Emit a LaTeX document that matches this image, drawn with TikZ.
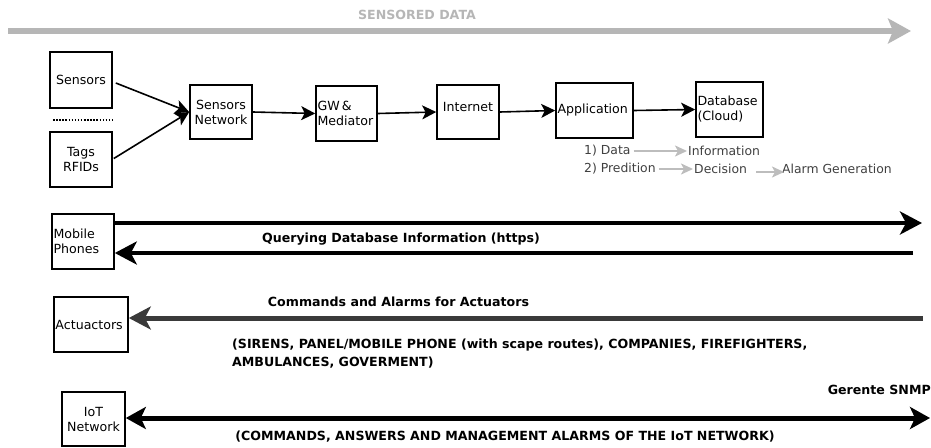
\documentclass[tikz,border=0pt]{standalone}
\usepackage{fontspec}
\setmainfont{DejaVu Sans}
\usetikzlibrary{arrows.meta,calc}
\definecolor{lgray}{HTML}{B6B6B6}
\definecolor{agray}{HTML}{BDBDBD}
\definecolor{dgray}{HTML}{3A3A3A}
\begin{document}
\begin{tikzpicture}[x=1pt,y=-1pt,
  box/.style={draw,line width=1.6pt,inner sep=1.5pt,font=\fontsize{12.6}{15}\selectfont},
  lbox/.style={box,align=left},
  cbox/.style={box,align=center},
  arr/.style={line width=1.6pt,-{Stealth[length=14pt,width=14pt,inset=3.5pt]}},
  bigarr/.style={line width=4.5pt,-{Stealth[length=22pt,width=23pt,inset=6pt]}},
  garr/.style={agray,line width=2pt,-{Stealth[length=12pt,width=11pt,inset=3pt]}},
  small/.style={font=\fontsize{12.4}{14}\selectfont,text=black!75,inner sep=1pt},
  blbl/.style={font=\bfseries\fontsize{12.6}{15}\selectfont,inner sep=0pt},
]
\useasboundingbox (0,0) rectangle (931,447);
% top sensored data arrow
\node[blbl,text=lgray] (sd) at (417,15) {SENSORED DATA};
\coordinate (sdA) at (8,31);
\coordinate (sdB) at (911,31);
\draw[lgray,line width=6pt,-{Stealth[length=23pt,width=25pt,inset=5pt]}] (sdA) -- (sdB);
% chain
\node[cbox,minimum width=62pt,minimum height=56pt] (sensors) at (81,80) {Sensors};
\node[cbox,minimum width=62pt,minimum height=55pt] (tags) at (81,159.5) {Tags\\RFIDs};
\coordinate (dotA) at (53,119.5);
\coordinate (dotB) at (113,119.5);
\draw[line width=2pt,dash pattern=on 1.5pt off 1.6pt] (dotA) -- (dotB);
\node[cbox,minimum width=62pt,minimum height=54pt] (sn) at (221,112) {Sensors\\Network};
\node[lbox,text width=58pt,minimum height=55pt] (gw) at (346.5,113.5) {GW\,\&\\Mediator};
\node[cbox,minimum width=62pt,minimum height=54pt] (inet) at (468,112) {Internet\\[-5pt]\phantom{I}};
\node[lbox,text width=74pt,minimum height=55pt] (app) at (594.5,110.5) {Application};
\node[lbox,text width=64pt,minimum height=55pt] (db) at (729.5,109.5) {Database\\(Cloud)};
\draw[arr] ($(sensors.east)+(3,3)$) -- (sn.west);
\draw[arr] ($(tags.east)+(1,-1)$) -- (sn.west);
\draw[arr] (sn.east) -- (gw.west);
\draw[arr] (gw.east) -- (inet.west);
\draw[arr] (inet.east) -- (app.west);
\draw[arr] (app.east) -- (db.west);
% application notes
\node[small,anchor=west] (data) at (583,151) {1) Data};
\node[small,anchor=west] (info) at (687,151) {Information};
\node[small,anchor=west] (pred) at (583,169) {2) Predition};
\node[small,anchor=west] (dec) at (693,169) {Decision};
\node[small,anchor=west] (alarm) at (781,169) {Alarm Generation};
\draw[garr] ($(data.east)+(2,0)$) -- (info.west);
\draw[garr] ($(pred.east)+(2,0)$) -- (dec.west);
\draw[garr] ($(dec.east)+(8,3)$) -- ($(alarm.west)+(3,3)$);
% mobile phones
\node[lbox,text width=59pt,minimum height=55pt] (mob) at (83,241.5) {Mobile\\Phones};
\coordinate (mobR1) at (922,223);
\coordinate (mobR2) at (913,253);
\draw[bigarr] (mob.east |- 0,223) -- (mobR1);
\draw[bigarr] (mobR2) -- (mob.east |- 0,253);
\node[blbl] (qlbl) at (401,239) {Querying Database Information (https)};
% actuators
\node[box,minimum width=74pt,minimum height=55pt] (act) at (91,324.5) {Actuactors\\[-4pt]\phantom{I}};
\coordinate (actR) at (923,318);
\draw[bigarr,dgray,line width=5pt] (actR) -- (act.east |- 0,318);
\node[blbl] (clbl) at (398.5,302) {Commands and Alarms for Actuators};
\node[blbl,anchor=west,align=left,font=\bfseries\fontsize{12.6}{18}\selectfont] (slbl) at (232,354) {(SIRENS, PANEL/MOBILE PHONE (with scape routes), COMPANIES, FIREFIGHTERS,\\AMBULANCES, GOVERMENT)};
% IoT
\node[cbox,minimum width=63pt,minimum height=54pt] (iot) at (93.5,419) {IoT\\Network};
\coordinate (iotR) at (930,418);
\draw[line width=5pt,{Stealth[length=20pt,width=22pt,inset=5pt]}-{Stealth[length=20pt,width=22pt,inset=5pt]}] (iot.east |- 0,418) -- (iotR);
\node[blbl,anchor=east] (snmp) at (931,390) {Gerente SNMP};
\node[blbl] (ilbl) at (505,437) {(COMMANDS, ANSWERS AND MANAGEMENT ALARMS OF THE IoT NETWORK)};
\end{tikzpicture}
\end{document}
